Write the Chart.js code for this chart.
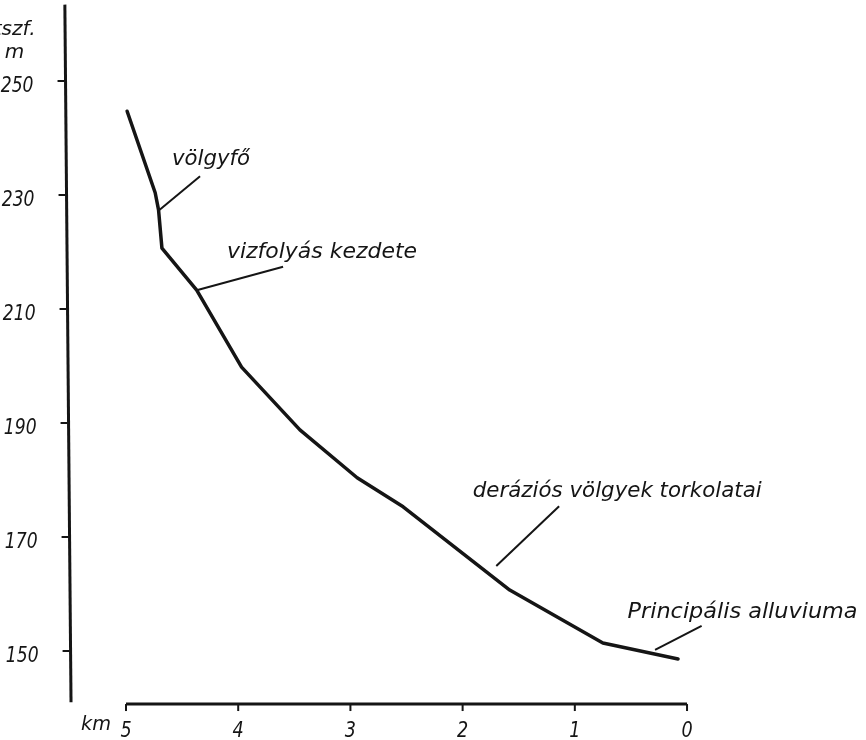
<!DOCTYPE html>
<html lang="hu">
<head>
<meta charset="utf-8">
<title>Völgyprofil</title>
<script src="https://cdn.jsdelivr.net/npm/chart.js@4.4.1/dist/chart.umd.min.js"></script>
<style>
  html, body { margin: 0; padding: 0; background: #ffffff; }
  #wrap { width: 866px; height: 740px; position: relative; }
  canvas { display: block; }
</style>
</head>
<body>
<div id="wrap"><canvas id="profile" width="866" height="740"></canvas></div>
<script>
// Longitudinal valley profile: distance from the mouth (km) vs. elevation (m a.s.l.)
const distanceKm = [4.99, 4.74, 4.71, 4.68, 4.37, 3.97, 3.45, 2.94, 2.53, 1.58, 0.75, 0.08];
const elevationM = [244.7, 230.4, 227.4, 220.7, 213.3, 199.8, 188.8, 180.4, 175.3, 160.7, 151.4, 148.6];

const distanceTicks = [5, 4, 3, 2, 1, 0];
const elevationTicks = [150, 170, 190, 210, 230, 250];

// Annotated points along the profile (text anchor and leader line, in km / m)
const notes = [
  { text: 'völgyfő',                      at: [4.59, 235.3], width: 78,  size: 21, leader: [[4.34, 233.3], [4.70, 227.4]] },
  { text: 'vizfolyás kezdete',            at: [4.10, 218.9], width: 190, size: 22, leader: [[3.60, 217.4], [4.37, 213.3]] },
  { text: 'deráziós völgyek torkolatai',  at: [1.91, 177.0], width: 289, size: 22, leader: [[1.14, 175.4], [1.70, 164.9]] },
  { text: 'Principális alluviuma',        at: [0.53, 155.8], width: 230, size: 22, leader: [[-0.13, 154.4], [0.285, 150.2]] }
];

const ink = '#151515';
const FONT = '"DejaVu Sans", "Liberation Sans", sans-serif';

// Axis geometry in data units
const yAxisTop = { km: 5.545, m: 263.4 };
const yAxisBottom = { km: 5.49, m: 141.0 };
const xAxisLevel = 140.7;

function drawText(ctx, text, px, py, size, align, opts) {
  ctx.save();
  ctx.font = 'italic ' + size + 'px ' + FONT;
  const w = ctx.measureText(text).width;
  const k = opts && opts.width ? opts.width / w : (opts && opts.sx) || 1;
  ctx.translate(px, py);
  ctx.scale(k, 1);
  ctx.textAlign = align;
  ctx.textBaseline = 'alphabetic';
  ctx.fillStyle = ink;
  ctx.fillText(text, 0, 0);
  ctx.restore();
}

const profileAxes = {
  id: 'profileAxes',
  beforeDatasetsDraw(chart) {
    const { ctx, scales: { x, y } } = chart;
    const X = v => x.getPixelForValue(v);
    const Y = v => y.getPixelForValue(v);
    const axisXAt = m => {
      const t = (m - yAxisTop.m) / (yAxisBottom.m - yAxisTop.m);
      return X(yAxisTop.km + t * (yAxisBottom.km - yAxisTop.km));
    };

    ctx.save();
    ctx.strokeStyle = ink;
    ctx.lineCap = 'butt';

    // vertical (elevation) axis
    ctx.lineWidth = 3;
    ctx.beginPath();
    ctx.moveTo(axisXAt(yAxisTop.m), Y(yAxisTop.m));
    ctx.lineTo(axisXAt(yAxisBottom.m), Y(yAxisBottom.m));
    ctx.stroke();

    ctx.lineWidth = 2;
    elevationTicks.forEach(v => {
      const ax = axisXAt(v);
      ctx.beginPath();
      ctx.moveTo(ax - 1, Y(v));
      ctx.lineTo(ax - 8, Y(v));
      ctx.stroke();
      drawText(ctx, String(v), ax - 32, Y(v) + 11, 22, 'right', { sx: 0.78 });
    });

    // unit of elevation (left edge runs off the page)
    const topAx = axisXAt(250);
    drawText(ctx, 'tszf.', topAx - 30, Y(250) - 46, 20, 'right');
    drawText(ctx, 'm', topAx - 51, Y(250) - 23, 20, 'center');

    // horizontal (distance) axis
    const ay = Y(xAxisLevel);
    ctx.lineWidth = 3;
    ctx.beginPath();
    ctx.moveTo(X(distanceTicks[0]), ay);
    ctx.lineTo(X(distanceTicks[distanceTicks.length - 1]), ay);
    ctx.stroke();

    ctx.lineWidth = 2;
    distanceTicks.forEach(v => {
      ctx.beginPath();
      ctx.moveTo(X(v), ay);
      ctx.lineTo(X(v), ay + 7);
      ctx.stroke();
      drawText(ctx, String(v), X(v), ay + 33, 22, 'center', { sx: 0.8 });
    });
    drawText(ctx, 'km', X(distanceTicks[0]) - 15, ay + 26, 20, 'right', { width: 30 });

    // annotations with leader lines
    ctx.lineWidth = 2;
    notes.forEach(n => {
      ctx.beginPath();
      ctx.moveTo(X(n.leader[0][0]), Y(n.leader[0][1]));
      ctx.lineTo(X(n.leader[1][0]), Y(n.leader[1][1]));
      ctx.stroke();
      drawText(ctx, n.text, X(n.at[0]), Y(n.at[1]), n.size, 'left', { width: n.width });
    });

    ctx.restore();
  }
};

new Chart(document.getElementById('profile'), {
  type: 'scatter',
  data: {
    datasets: [{
      label: 'Völgyprofil',
      data: distanceKm.map((d, i) => ({ x: d, y: elevationM[i] })),
      showLine: true,
      borderColor: ink,
      borderWidth: 3.5,
      borderJoinStyle: 'round',
      borderCapStyle: 'round',
      pointRadius: 0,
      pointHoverRadius: 0,
      tension: 0,
      clip: false
    }]
  },
  options: {
    responsive: false,
    animation: false,
    events: [],
    layout: { padding: 0 },
    plugins: { legend: { display: false }, tooltip: { enabled: false }, title: { display: false } },
    scales: {
      x: { type: 'linear', reverse: true, min: -1.595, max: 6.123, display: false },
      y: { type: 'linear', min: 134.39, max: 264.21, display: false }
    }
  },
  plugins: [profileAxes]
});
</script>
</body>
</html>
